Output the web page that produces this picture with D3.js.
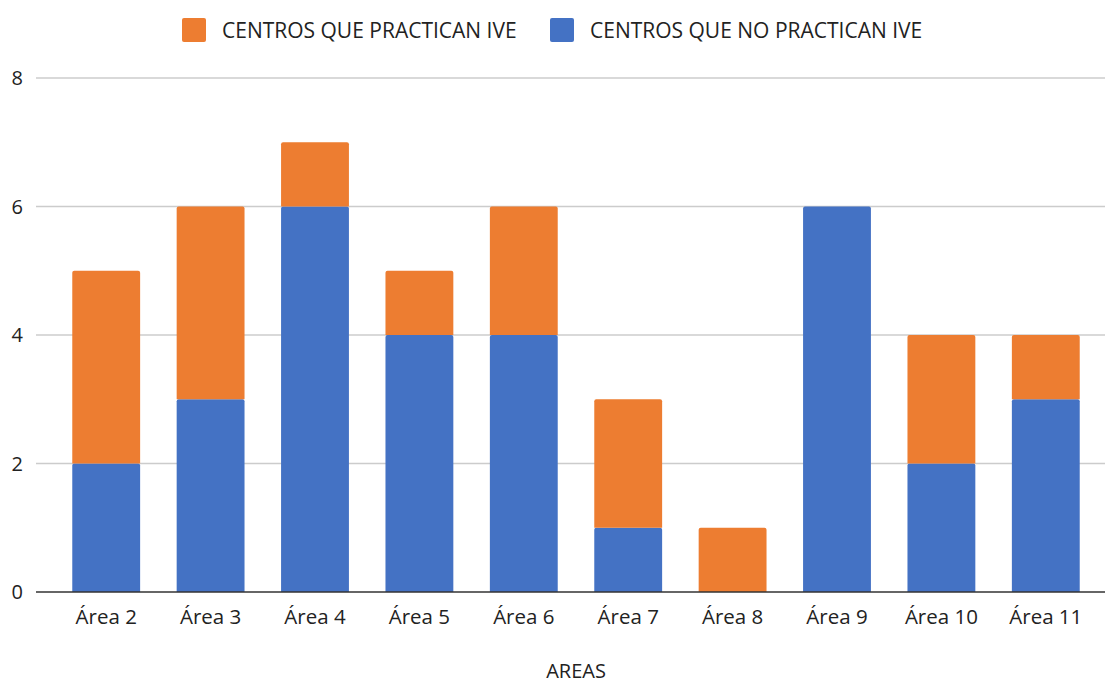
<!DOCTYPE html>
<html>
<head>
<meta charset="utf-8">
<script src="https://cdn.jsdelivr.net/npm/d3@7"></script>
<style>
  html, body { margin: 0; padding: 0; background: #fff; }
  svg { display: block; font-family: "Open Sans", sans-serif; }
</style>
</head>
<body>
<svg id="chart" width="1105" height="684"></svg>
<script>
// Centres per area: those that perform IVE and those that don't
const areas = ["Área 2", "Área 3", "Área 4", "Área 5", "Área 6", "Área 7", "Área 8", "Área 9", "Área 10", "Área 11"];
const noPractican = [2, 3, 6, 4, 4, 1, 0, 6, 2, 3];
const practican   = [3, 3, 1, 1, 2, 2, 1, 0, 2, 1];
const yTicks = [0, 2, 4, 6, 8];
const seriesNames = ["CENTROS QUE PRACTICAN IVE", "CENTROS QUE NO PRACTICAN IVE"];
const seriesColors = ["#ED7D31", "#4472C4"];

const rows = areas.map((a, i) => ({ area: a, no: noPractican[i], si: practican[i] }));
const stacked = d3.stack().keys(["no", "si"])(rows);

const svg = d3.select("#chart");
const W = 1105;

const x = d3.scaleBand().domain(areas).range([54, 1098]).paddingInner(0.35).paddingOuter(0.175);
const y = d3.scaleLinear().domain([0, 8]).range([592, 78]);

// gridlines
svg.append("g").selectAll("line").data(yTicks.filter(t => t !== 0)).join("line")
  .attr("x1", 36).attr("x2", W)
  .attr("y1", d => y(d)).attr("y2", d => y(d))
  .attr("stroke", "#cccccc").attr("stroke-width", 1.3);

// y tick labels
svg.append("g").selectAll("text").data(yTicks).join("text")
  .attr("x", 23).attr("y", d => y(d)).attr("dy", "0.36em")
  .attr("text-anchor", "end").attr("font-size", 20).attr("fill", "#222")
  .text(d => d);

// bars
const colorFor = { no: "#4472C4", si: "#ED7D31" };
stacked.forEach(layer => {
  svg.append("g").selectAll("path").data(layer.filter(d => d[1] > d[0])).join("path")
    .attr("fill", colorFor[layer.key])
    .attr("d", d => {
      const x0 = x(d.data.area), w = x.bandwidth();
      const yt = y(d[1]), yb = y(d[0]);
      const r = 2;
      return `M${x0},${yb}V${yt + r}Q${x0},${yt} ${x0 + r},${yt}H${x0 + w - r}Q${x0 + w},${yt} ${x0 + w},${yt + r}V${yb}Z`;
    });
});

// baseline
svg.append("line").attr("x1", 36).attr("x2", W).attr("y1", y(0)).attr("y2", y(0))
  .attr("stroke", "#333").attr("stroke-width", 1.5);

// x axis labels
const xAxis = d3.axisBottom(x).tickSize(0).tickPadding(0);
const gx = svg.append("g").attr("transform", `translate(0,${y(0)})`).call(xAxis);
gx.select(".domain").remove();
gx.selectAll("text").attr("dy", null).attr("y", 32)
  .attr("font-size", 20.5).attr("fill", "#222").attr("font-family", "Open Sans, sans-serif");

// axis title
svg.append("text").attr("x", 576).attr("y", 678).attr("text-anchor", "middle")
  .attr("font-size", 20).attr("fill", "#222").text("AREAS");

// legend
const legendX = [182, 550];
seriesNames.forEach((name, i) => {
  const g = svg.append("g").attr("transform", `translate(${legendX[i]},18)`);
  g.append("rect").attr("width", 24).attr("height", 24).attr("rx", 2).attr("fill", seriesColors[i]);
  g.append("text").attr("x", 40).attr("y", 12).attr("dy", "0.36em")
    .attr("font-size", 21).attr("fill", "#222").text(name);
});
</script>
</body>
</html>
